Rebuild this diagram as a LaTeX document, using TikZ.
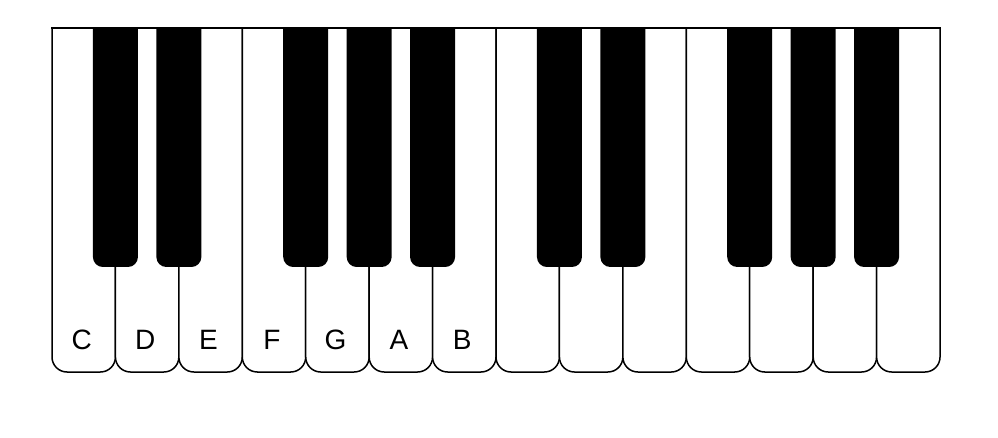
\documentclass[tikz,border=0pt]{standalone}
\usepackage{fontspec}
\setmainfont{Liberation Sans}
\begin{document}
\begin{tikzpicture}[x=1pt,y=-1pt,
  wkey/.style={draw=black, fill=white, line width=1.5pt, rounded corners=15pt},
  bkey/.style={fill=black, rounded corners=10pt},
  toplineS/.style={draw=black, line width=1.8pt},
  keylabel/.style={anchor=base, inner sep=0pt, font=\fontsize{28}{28}\selectfont}]
\useasboundingbox (0,0) rectangle (998,438);
\def\kw{63.43}
\foreach \i in {0,...,13} {
  \pgfmathsetmacro\xl{52+\i*\kw}
  \pgfmathsetmacro\xr{52+(\i+1)*\kw}
  \fill[white] (\xl,28) rectangle (\xr,360);
  \draw[wkey] (\xl,28) -- (\xl,372) -- (\xr,372) -- (\xr,28);
}
\foreach \k in {1,2,4,5,6,8,9,11,12,13} {
  \pgfmathsetmacro\cx{52+\k*\kw}
  \fill[bkey] (\cx-22.5,28) -- (\cx-22.5,267) -- (\cx+22.5,267) -- (\cx+22.5,28);
}
\draw[toplineS] (51.25,28) -- (940.75,28);
\foreach \n/\i in {C/0,D/1,E/2,F/3,G/4,A/5,B/6} {
  \pgfmathsetmacro\cx{52+(\i+0.5)*\kw-2}
  \node[keylabel] (lab\n) at (\cx,349) {\n};
}
\end{tikzpicture}
\end{document}
